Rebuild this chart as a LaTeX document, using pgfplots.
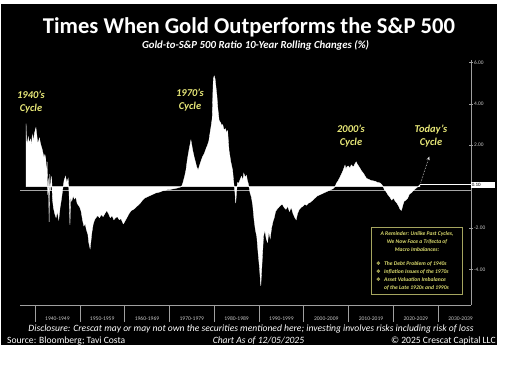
\documentclass[border=0pt]{standalone}
\usepackage{pgfplots}
\pgfplotsset{compat=1.18}
\usepackage{fontspec}
\setmainfont{Carlito}
\newfontfamily\dejavu{DejaVu Sans}
\usetikzlibrary{arrows.meta}
\definecolor{cyc}{RGB}{232,232,120}
\definecolor{boxc}{RGB}{220,220,110}
\definecolor{boxb}{RGB}{165,165,95}
\definecolor{tickc}{RGB}{200,200,200}
\pgfplotstableread[row sep=\\]{
x y\\
1938.00 3.05\\ 1938.10 2.2\\ 1938.30 2.1\\ 1938.50 2.4\\ 1938.70 2.1\\ 1939.00 2.3\\
1939.20 2.0\\ 1939.40 2.5\\ 1939.60 2.2\\ 1939.90 2.6\\ 1940.20 2.85\\ 1940.40 2.5\\
1940.60 2.1\\ 1940.80 2.2\\ 1941.00 2.35\\ 1941.20 2.1\\ 1941.40 1.95\\ 1941.60 1.8\\
1941.80 1.6\\ 1942.00 1.4\\ 1942.20 1.55\\ 1942.40 1.35\\ 1942.55 0.5\\ 1942.70 1.2\\
1942.85 -0.4\\ 1943.00 0.4\\ 1943.15 -1.7\\ 1943.30 0.6\\ 1943.50 -0.2\\ 1943.70 0.5\\
1943.90 -0.6\\ 1944.10 -1.0\\ 1944.40 -1.3\\ 1944.70 -1.5\\ 1945.00 -1.2\\ 1945.30 -1.6\\
1945.60 -1.0\\ 1945.90 -0.6\\ 1946.20 -0.1\\ 1946.50 0.3\\ 1946.80 0.5\\ 1947.10 0.2\\
1947.40 0.4\\ 1947.60 -0.3\\ 1947.80 -1.85\\ 1947.95 -0.5\\ 1948.20 -0.7\\ 1948.50 -0.45\\
1948.80 -0.6\\ 1949.10 -0.5\\ 1949.40 -0.8\\ 1949.70 -0.9\\ 1950.00 -1.0\\ 1950.30 -1.2\\
1950.60 -1.6\\ 1950.90 -1.9\\ 1951.20 -1.8\\ 1951.50 -2.1\\ 1951.80 -2.3\\ 1952.00 -2.7\\
1952.30 -3.0\\ 1952.50 -2.6\\ 1952.70 -2.2\\ 1953.00 -1.8\\ 1953.30 -1.6\\ 1953.60 -1.5\\
1954.00 -1.4\\ 1954.40 -1.5\\ 1954.80 -1.35\\ 1955.20 -1.45\\ 1955.60 -1.3\\ 1956.00 -1.15\\
1956.40 -1.3\\ 1956.80 -1.5\\ 1957.20 -1.4\\ 1957.60 -1.6\\ 1958.00 -1.5\\ 1958.40 -1.45\\
1958.80 -1.6\\ 1959.20 -1.55\\ 1959.70 -1.8\\ 1960.00 -1.7\\ 1960.50 -1.5\\ 1961.00 -1.3\\
1961.50 -1.15\\ 1962.00 -1.1\\ 1962.50 -1.0\\ 1963.00 -0.9\\ 1963.50 -0.8\\ 1964.00 -0.65\\
1964.50 -0.55\\ 1965.00 -0.5\\ 1965.50 -0.45\\ 1966.00 -0.4\\ 1966.50 -0.35\\ 1967.00 -0.3\\
1967.50 -0.28\\ 1968.00 -0.25\\ 1968.50 -0.2\\ 1969.00 -0.18\\ 1969.50 -0.15\\ 1970.00 -0.15\\
1970.50 -0.12\\ 1971.00 -0.1\\ 1971.50 -0.08\\ 1972.00 -0.05\\ 1972.50 -0.02\\ 1972.80 0.05\\
1973.00 0.17\\ 1973.40 0.5\\ 1973.70 0.8\\ 1974.00 1.3\\ 1974.40 1.8\\ 1974.80 2.25\\
1975.00 2.0\\ 1975.20 1.75\\ 1975.50 1.45\\ 1975.80 1.2\\ 1976.10 0.95\\ 1976.40 0.8\\
1976.70 1.0\\ 1977.00 1.2\\ 1977.40 1.45\\ 1977.80 1.6\\ 1978.20 1.85\\ 1978.50 2.0\\
1978.80 2.2\\ 1979.00 2.5\\ 1979.30 2.9\\ 1979.55 3.3\\ 1979.70 4.5\\ 1979.80 5.2\\
1980.00 5.35\\ 1980.20 5.2\\ 1980.40 4.8\\ 1980.60 4.4\\ 1980.80 3.8\\ 1981.10 3.2\\
1981.40 3.1\\ 1981.70 2.95\\ 1981.90 3.0\\ 1982.20 2.73\\ 1982.50 2.8\\ 1982.80 2.6\\
1983.00 2.7\\ 1983.30 1.76\\ 1983.70 1.2\\ 1984.10 0.8\\ 1984.40 0.1\\ 1984.60 -0.2\\
1984.80 -0.8\\ 1985.00 -0.2\\ 1985.20 0.2\\ 1985.50 0.17\\ 1985.80 0.35\\ 1986.10 0.5\\
1986.40 0.3\\ 1986.60 0.65\\ 1986.90 0.45\\ 1987.20 0.55\\ 1987.40 0.3\\ 1987.60 0.15\\
1987.80 -0.05\\ 1988.00 -0.3\\ 1988.30 -0.5\\ 1988.60 -0.9\\ 1988.90 -1.6\\ 1989.20 -2.1\\
1989.50 -2.4\\ 1989.80 -3.2\\ 1990.10 -3.9\\ 1990.40 -4.8\\ 1990.60 -4.0\\ 1990.80 -3.2\\
1991.00 -2.4\\ 1991.30 -2.1\\ 1991.60 -2.5\\ 1991.90 -2.7\\ 1992.20 -2.2\\ 1992.50 -2.5\\
1992.80 -2.0\\ 1993.10 -1.7\\ 1993.40 -1.5\\ 1993.70 -1.2\\ 1994.00 -1.1\\ 1994.40 -1.0\\
1994.80 -0.9\\ 1995.20 -0.85\\ 1995.60 -1.0\\ 1996.00 -1.1\\ 1996.40 -0.95\\ 1996.80 -1.2\\
1997.20 -1.0\\ 1997.60 -1.3\\ 1998.00 -1.5\\ 1998.30 -1.6\\ 1998.60 -1.3\\ 1999.00 -1.1\\
1999.40 -1.0\\ 1999.80 -0.95\\ 2000.20 -0.85\\ 2000.60 -0.9\\ 2001.00 -0.8\\ 2001.50 -0.75\\
2002.00 -0.65\\ 2002.50 -0.55\\ 2003.00 -0.45\\ 2003.50 -0.4\\ 2004.00 -0.35\\ 2004.50 -0.3\\
2005.00 -0.25\\ 2005.50 -0.2\\ 2006.00 -0.15\\ 2006.50 -0.1\\ 2006.96 0.0\\ 2007.30 0.17\\
2007.70 0.3\\ 2008.10 0.47\\ 2008.50 0.65\\ 2008.80 0.8\\ 2009.20 1.04\\ 2009.40 0.85\\
2009.60 0.95\\ 2009.90 1.0\\ 2010.30 0.9\\ 2010.60 1.05\\ 2011.10 0.95\\ 2011.40 1.1\\
2011.70 1.2\\ 2011.90 1.1\\ 2012.20 1.0\\ 2012.50 0.9\\ 2012.90 0.75\\ 2013.30 0.65\\
2013.70 0.5\\ 2014.00 0.4\\ 2014.50 0.35\\ 2015.00 0.3\\ 2015.50 0.28\\ 2016.00 0.25\\
2016.50 0.2\\ 2017.00 0.18\\ 2017.40 0.1\\ 2017.70 0.0\\ 2018.00 -0.15\\ 2018.40 -0.25\\
2018.80 -0.4\\ 2019.20 -0.5\\ 2019.60 -0.65\\ 2020.00 -0.55\\ 2020.40 -0.7\\ 2020.80 -0.8\\
2021.20 -0.95\\ 2021.50 -1.1\\ 2021.80 -1.15\\ 2022.10 -0.9\\ 2022.40 -0.7\\ 2022.80 -0.65\\
2023.20 -0.55\\ 2023.60 -0.35\\ 2024.00 -0.3\\ 2024.40 -0.2\\ 2024.80 -0.12\\ 2025.20 -0.05\\
2025.60 0.02\\ 2025.92 0.10\\
}\ratio
\begin{document}
\begin{tikzpicture}[x=1pt,y=1pt]
\fill[white] (0,0) rectangle (513,365);
\fill[black] (1,20) rectangle (497,361);
% title
\node[anchor=base,text=white,font=\fontsize{22.6}{26}\selectfont\bfseries,inner sep=0] at (249,331.7) {Times When Gold Outperforms the S\&P 500};
\node[anchor=base,text=white,font=\fontsize{10.8}{12}\selectfont\bfseries\itshape,inner sep=0] at (255.5,316.3) {Gold-to-S\&P 500 Ratio 10-Year Rolling Changes (\%)};
% decade separators
\foreach \k in {0,...,9} \draw[gray!75,line width=0.5pt] (35+\k*44.78,60) -- (35+\k*44.78,43);
\begin{axis}[
  at={(20pt,60pt)}, anchor=south west, scale only axis,
  width=451pt, height=245pt,
  xmin=1936.65, xmax=2037.32, ymin=-5.72, ymax=6.12,
  axis x line=bottom, axis y line=right,
  axis line style={-, gray!75, line width=0.6pt},
  xtick={1945,1955,...,2035},
  xticklabels={1940-1949,1950-1959,1960-1969,1970-1979,1980-1989,1990-1999,2000-2009,2010-2019,2020-2029,2030-2039},
  xtick style={draw=none},
  xticklabel style={anchor=center, yshift=-12pt, text=tickc, font=\fontsize{5.6}{6}\selectfont},
  ytick={-4,-2,2,4,6},
  yticklabels={-4.00,-2.00,2.00,4.00,6.00},
  ytick style={gray!75, line width=0.5pt},
  major tick length=4pt, tick align=center,
  yticklabel style={anchor=west, xshift=-2.5pt, text=tickc, font=\fontsize{5.4}{6}\selectfont},
  clip=false,
]
\draw[gray!70, line width=0.7pt] (axis cs:1936.65,-0.2) -- (axis cs:2037.32,-0.2);
\addplot[fill=white, draw=white, line width=0.3pt] table[x=x,y=y] {\ratio} \closedcycle;
\draw[white, line width=0.6pt] (axis cs:2025.92,0.1) -- (axis cs:2037.32,0.1);
\node[anchor=west, fill=white, text=black, inner sep=0.6pt, text width=23pt, minimum height=6pt, font=\fontsize{5}{5}\selectfont] at (axis cs:2037.32,0.1) {0.10};
\draw[white!80!gray, densely dotted, line width=0.6pt, -{Stealth[length=3.5pt,width=3pt]}] (axis cs:2026.1,0.2) -- (axis cs:2028.0,1.45);
\end{axis}
% cycle labels
\begin{scope}[every node/.style={anchor=base, text=cyc, inner sep=0, font=\fontsize{10.5}{12}\selectfont\bfseries\itshape}]
\node at (31,266.5) {1940’s};
\node at (31,253.8) {Cycle};
\node at (190,268.3) {1970’s};
\node at (190,255.6) {Cycle};
\node at (351,232.3) {2000’s};
\node at (351,219.6) {Cycle};
\node at (431,232.3) {Today’s};
\node at (431,219.6) {Cycle};
\end{scope}
% reminder box
\draw[boxb, line width=0.6pt] (371,71) rectangle (462,138);
\begin{scope}[every node/.style={text=boxc, inner sep=0, font=\fontsize{5.6}{6}\selectfont\bfseries\itshape}]
\node[anchor=base] at (417,130) {A Reminder: Unlike Past Cycles,};
\node[anchor=base] at (417,121.8) {We Now Face a Trifecta of};
\node[anchor=base] at (417,114) {Macro Imbalances:};
\node[anchor=base west] at (384,100) {The Debt Problem of 1940s};
\node[anchor=base west] at (384,92) {Inflation Issues of the 1970s};
\node[anchor=base west] at (384,84) {Asset Valuation Imbalance};
\node[anchor=base west] at (384,76) {of the Late 1920s and 1990s};
\node[anchor=base, font=\fontsize{5.2}{6}\selectfont\dejavu] at (378.5,100) {❖};
\node[anchor=base, font=\fontsize{5.2}{6}\selectfont\dejavu] at (378.5,92) {❖};
\node[anchor=base, font=\fontsize{5.2}{6}\selectfont\dejavu] at (378.5,84) {❖};
\end{scope}
% footer
\node[anchor=base, text=white, inner sep=0, font=\fontsize{9.6}{11}\selectfont\itshape] at (251,34) {Disclosure: Crescat may or may not own the securities mentioned here; investing involves risks including risk of loss};
\node[anchor=base west, text=white, inner sep=0, font=\fontsize{9.6}{11}\selectfont] at (7,21.8) {Source: Bloomberg; Tavi Costa};
\node[anchor=base, text=white, inner sep=0, font=\fontsize{9.6}{11}\selectfont\itshape] at (258.5,21.8) {Chart As of 12/05/2025};
\node[anchor=base east, text=white, inner sep=0, font=\fontsize{9.6}{11}\selectfont] at (496,21.8) {© 2025 Crescat Capital LLC};
\end{tikzpicture}
\end{document}
